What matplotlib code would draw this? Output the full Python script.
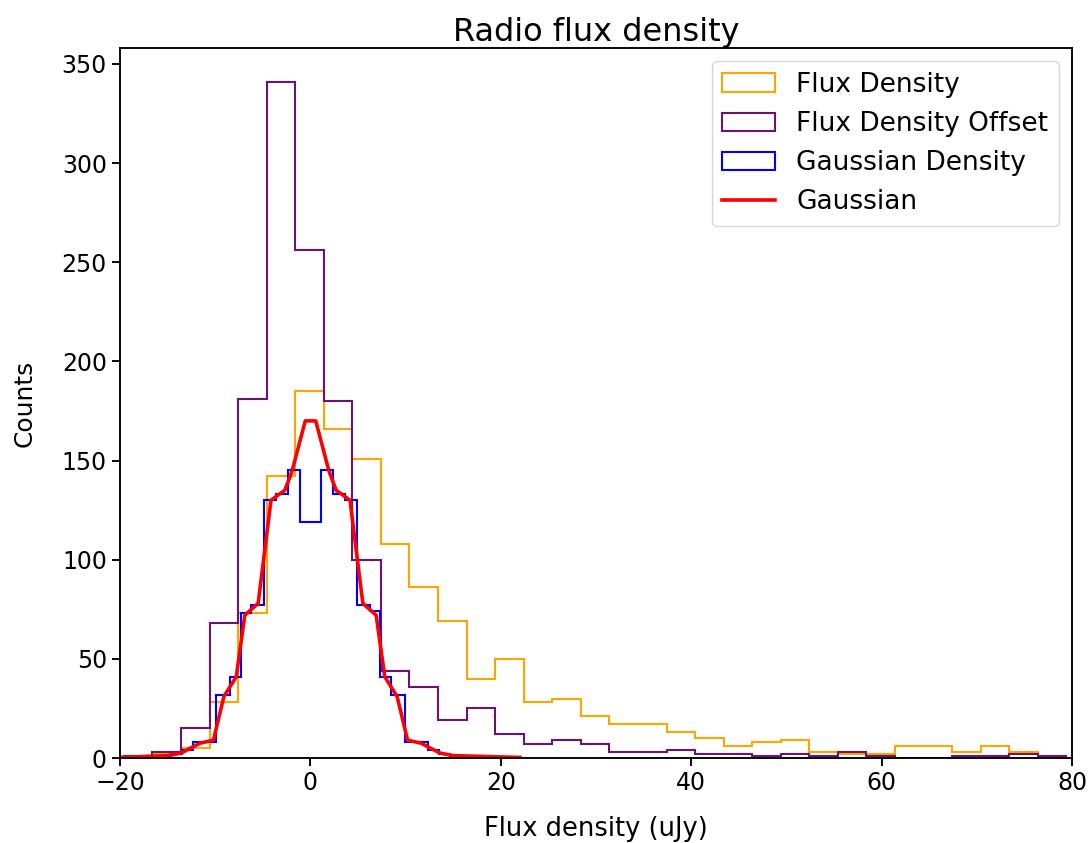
import numpy as np
import matplotlib
matplotlib.use("Agg")
import matplotlib.pyplot as plt

# ---- data ----
flux_edges = [-19.6 + 3.0 * k for k in range(34)]
flux_counts = [1, 2, 5, 28, 73, 142, 185, 166, 151, 108, 86, 69, 40, 50, 28, 30,
               21, 17, 17, 13, 10, 6, 8, 9, 3, 2, 2, 6, 6, 3, 6, 3, 1]
offset_counts = [1, 3, 15, 68, 181, 341, 256, 180, 100, 44, 36, 19, 25, 12, 7, 9,
                 7, 3, 3, 4, 2, 2, 1, 2, 1, 3, 1, 0, 0, 1, 1, 2, 1]

gauss_edges = [-21.9, -20.7, -19.5, -18.3, -17.1, -15.9, -14.7, -13.5, -12.3, -11.1,
               -9.9, -8.5, -7.27, -6.2, -4.93, -3.6, -2.38, -1.15, 1.15, 2.38, 3.6,
               4.93, 6.2, 7.27, 8.5, 9.9, 11.1, 12.3, 13.5, 14.7, 15.9, 17.1, 18.3,
               19.5, 20.7, 21.9]
gauss_counts = [0, 0, 0, 0, 1, 1, 2, 4, 8, 8, 32, 41, 73, 77, 130, 133, 145, 119,
                145, 133, 130, 77, 74, 41, 32, 8, 8, 4, 2, 1, 1, 0, 0, 0, 0]

curve_x = [-20, -15, -13.6, -11.6, -10.2, -9.1, -7.8, -6.9, -5.5, -4.15, -2.7, -1.95,
           -0.55, 0.55, 1.95, 2.7, 4.15, 5.5, 6.9, 7.8, 9.1, 10.2, 11.6, 13.6, 15, 22]
curve_y = [0.3, 1.2, 2.5, 7.5, 9, 31, 41, 72, 78, 130, 135, 144.5, 170, 170, 144.5,
           135, 130, 78, 72, 41, 31, 9, 7.5, 2.5, 1.2, 0.3]

# ---- figure ----
S = 1.7
plt.rcParams.update({
    "font.family": ["DejaVu Sans"],
    "font.size": 10 * S,
    "axes.linewidth": 0.8 * S,
    "xtick.major.size": 3.5 * S,
    "ytick.major.size": 3.5 * S,
    "xtick.major.width": 0.8 * S,
    "ytick.major.width": 0.8 * S,
})

fig = plt.figure(figsize=(10.92, 8.43), dpi=100)
ax = fig.add_axes([0.11, 0.1008, 0.8717, 0.8422])

ax.hist(flux_edges[:-1], bins=flux_edges, weights=flux_counts, histtype="step",
        color="orange", linewidth=1.5, label="Flux Density")
ax.hist(flux_edges[:-1], bins=flux_edges, weights=offset_counts, histtype="step",
        color="#6c1470", linewidth=1.5, label="Flux Density Offset")
ax.hist(gauss_edges[:-1], bins=gauss_edges, weights=gauss_counts, histtype="step",
        color="blue", linewidth=1.5, label="Gaussian Density")
ax.plot(curve_x, curve_y, color="red", linewidth=2.6, label="Gaussian")

ax.set_xlim(-20, 80)
ax.set_ylim(0, 358)
ax.set_xticks([-20, 0, 20, 40, 60, 80])
ax.set_yticks([0, 50, 100, 150, 200, 250, 300, 350])
ax.set_title("Radio flux density", fontsize=23, pad=3.5)
ax.set_xlabel("Flux density (uJy)", fontsize=18.5, labelpad=15)
ax.set_ylabel("Counts", fontsize=18, labelpad=18)
ax.legend(loc="upper right", fontsize=19)

fig.savefig("out.png", dpi=100)
